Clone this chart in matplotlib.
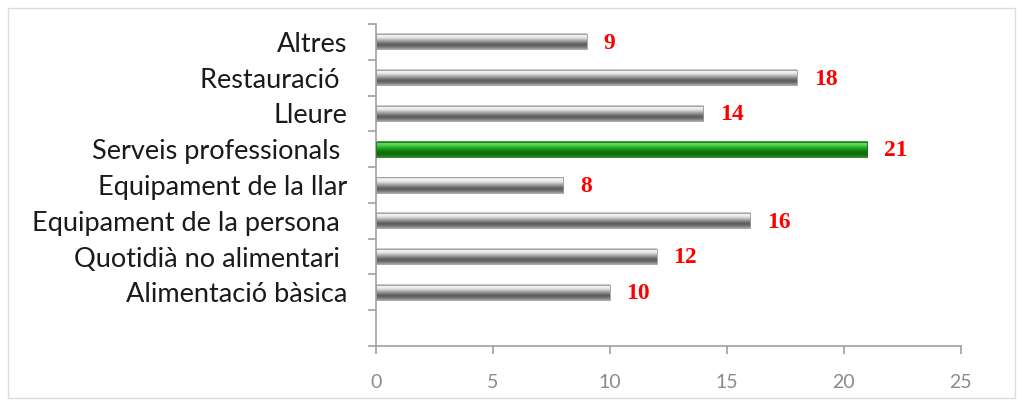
import numpy as np
import matplotlib.pyplot as plt
from matplotlib.colors import LinearSegmentedColormap
from matplotlib.patches import Rectangle

# dades (de baix a dalt; la primera posició queda buida)
categories = ['', 'Alimentació bàsica', 'Quotidià no alimentari ',
              'Equipament de la persona ', 'Equipament de la llar',
              'Serveis professionals ', 'Lleure', 'Restauració ', 'Altres']
values = [None, 10, 12, 16, 8, 21, 14, 18, 9]
highlight = 'Serveis professionals '
x_ticks = [0, 5, 10, 15, 20, 25]

gray_cmap = LinearSegmentedColormap.from_list(
    'gray_bar', ['#c4c4c4', '#f6f6f6', '#e4e4e4', '#b4b4b4', '#858585',
                 '#5c5c5c', '#6e6e6e', '#a0a0a0'])
green_cmap = LinearSegmentedColormap.from_list(
    'green_bar', ['#3a9a3a', '#5ee05e', '#48cc48', '#22a822', '#128c12',
                  '#0a6e0a', '#0e700e', '#2a8a2a'])

fig = plt.figure(figsize=(10.22, 4.0), dpi=100)
ax = fig.add_axes([0.368, 0.135, 0.572, 0.805])

# marc de la figura
fig.patches.append(Rectangle((0.008, 0.005), 0.985, 0.975, transform=fig.transFigure,
                             fill=False, edgecolor='#dcdcdc', linewidth=1.0))

h = 0.42
grad = np.linspace(0, 1, 64).reshape(-1, 1)
for i, (cat, v) in enumerate(zip(categories, values)):
    if v is None:
        continue
    cmap = green_cmap if cat == highlight else gray_cmap
    ax.imshow(grad, cmap=cmap, aspect='auto', origin='upper',
              extent=[0, v, i - h / 2, i + h / 2], zorder=2)
    edge = '#1d6e1d' if cat == highlight else '#9a9a9a'
    ax.add_patch(Rectangle((0, i - h / 2), v, h, fill=False,
                           edgecolor=edge, linewidth=0.6, zorder=3))
    ax.annotate(str(v), xy=(v, i), xytext=(12, -1), textcoords='offset points',
                ha='left', va='center', color='#ff0000', fontsize=17,
                fontweight='bold', family='Liberation Serif')

ax.set_xlim(0, 25)
ax.set_ylim(-0.5, len(categories) - 0.5)

ax.set_yticks(range(len(categories)))
ax.set_yticklabels(categories, fontsize=19.5, family='Lato', color='#1a1a1a')
ax.set_yticks(np.arange(-0.5, len(categories)), minor=True)
ax.tick_params(axis='y', which='major', length=0, pad=21)
ax.tick_params(axis='y', which='minor', length=6, color='#a0a0a0', width=1.2)

ax.set_xticks(x_ticks)
ax.set_xticklabels([str(t) for t in x_ticks], fontsize=14, family='Lato',
                   color='#8a8a8a')
ax.tick_params(axis='x', length=6, color='#a0a0a0', width=1.2, pad=14)

for s in ['top', 'right']:
    ax.spines[s].set_visible(False)
for s in ['left', 'bottom']:
    ax.spines[s].set_color('#a0a0a0')
    ax.spines[s].set_linewidth(1.2)

fig.savefig('out.png', dpi=100)
